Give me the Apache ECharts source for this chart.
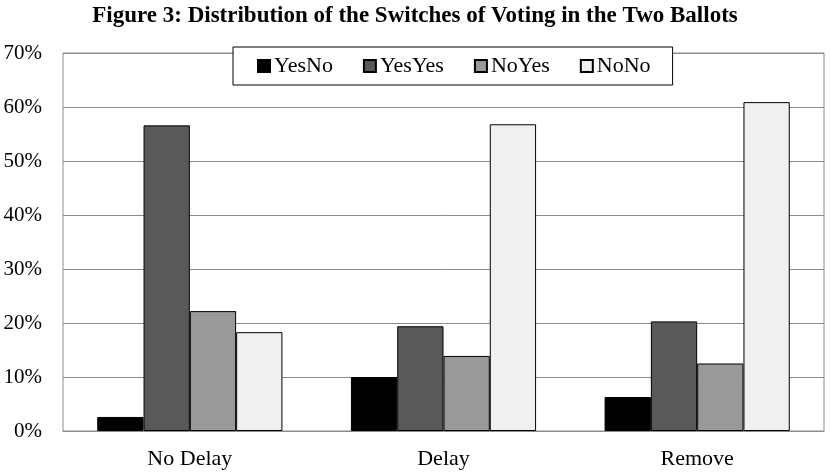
<!DOCTYPE html>
<html>
<head>
<meta charset="utf-8">
<script src="https://cdn.jsdelivr.net/npm/echarts@6/dist/echarts.min.js"></script>
<style>
  html, body { margin: 0; padding: 0; background: #fff; }
  #chart { width: 830px; height: 474px; }
</style>
</head>
<body>
<div id="chart"></div>
<script>
  // data (percent)
  var categories = ['No Delay', 'Delay', 'Remove'];
  var seriesNames = ['YesNo', 'YesYes', 'NoYes', 'NoNo'];
  var yesNo = [2.6, 10.0, 6.3];
  var yesYes = [56.6, 19.4, 20.3];
  var noYes = [22.2, 13.9, 12.5];
  var noNo = [18.3, 56.8, 60.9];
  var colors = ['#000000', '#595959', '#999999', '#f0f0f0'];

  var font = '"Liberation Serif", "Times New Roman", serif';
  var values = [yesNo, yesYes, noYes, noNo];

  var chart = echarts.init(document.getElementById('chart'));
  var option = {
    animation: false,
    title: {
      text: 'Figure 3: Distribution of the Switches of Voting in the Two Ballots',
      left: 'center',
      top: 0,
      textStyle: { fontFamily: font, fontWeight: 'bold', fontSize: 23, color: '#000' }
    },
    legend: {
      left: 233,
      top: 47,
      padding: [8, 22, 8, 24],
      borderColor: '#000',
      borderWidth: 1,
      backgroundColor: '#fff',
      icon: 'rect',
      itemWidth: 12,
      itemHeight: 12,
      itemGap: 30,
      textStyle: { fontFamily: font, fontSize: 22, color: '#000', padding: [0, 0, 0, -1] },
      data: seriesNames
    },
    grid: {
      left: 63,
      right: 6,
      top: 53,
      bottom: 43,
      show: true,
      borderColor: '#8c8c8c',
      borderWidth: 1
    },
    xAxis: {
      type: 'category',
      data: categories,
      axisLine: { lineStyle: { color: '#8c8c8c', width: 1 } },
      axisTick: { show: false },
      axisLabel: { fontFamily: font, fontSize: 22, color: '#000', margin: 17 }
    },
    yAxis: {
      type: 'value',
      min: 0,
      max: 70,
      interval: 10,
      axisLine: { show: false },
      axisTick: { show: false },
      splitLine: { lineStyle: { color: '#8c8c8c', width: 1 } },
      axisLabel: {
        fontFamily: font, fontSize: 21, color: '#000', margin: 21,
        formatter: function (v) { return v + '%'; }
      }
    },
    series: seriesNames.map(function (name, i) {
      return {
        name: name,
        type: 'bar',
        data: values[i],
        barGap: '0%',
        barCategoryGap: '27%',
        itemStyle: { color: colors[i], borderColor: '#000', borderWidth: 1 }
      };
    })
  };
  chart.setOption(option);
</script>
</body>
</html>
